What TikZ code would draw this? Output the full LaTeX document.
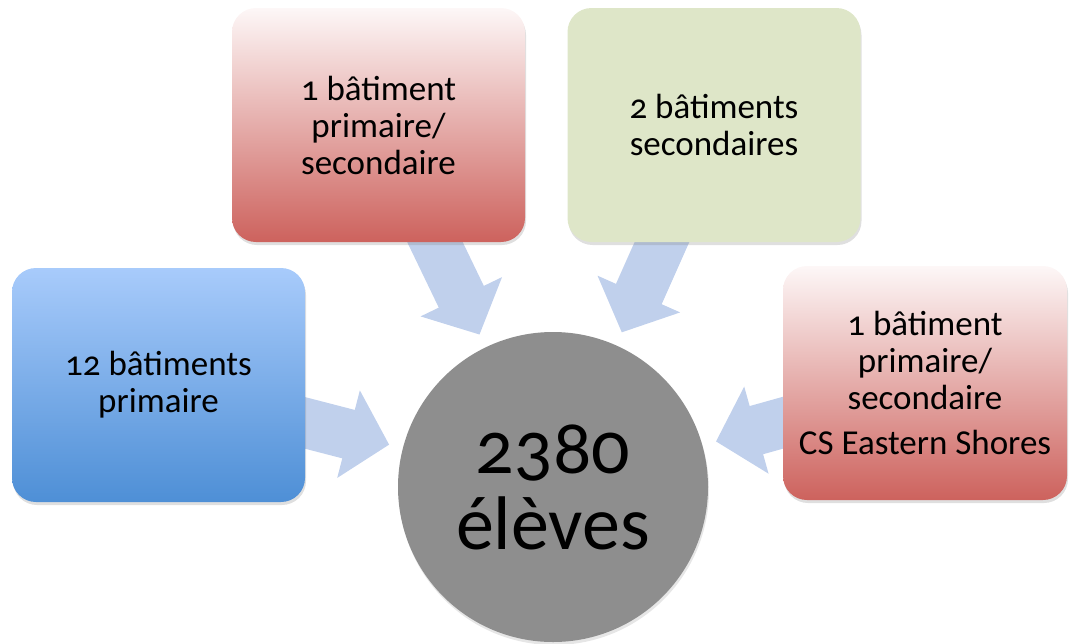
\documentclass[tikz,border=0pt]{standalone}
\usepackage{fontspec}
\setmainfont{Carlito}[Numbers=OldStyle]
\usetikzlibrary{arrows.meta,shadows,backgrounds}

\begin{document}
\begin{tikzpicture}[x=1pt,y=-1pt, bloc/.style={
                rectangle,
                rounded corners=24pt,
                minimum width=293pt,
                minimum height=234pt,
                inner sep=2pt,
                align=center,
                font=\fontsize{35}{37}\selectfont,
                drop shadow={shadow xshift=1pt, shadow yshift=-3pt, opacity=0.25}
              },
              fleche/.style={
                line width=50pt,
                draw=flechecolor,
                -{Triangle[length=42pt, width=88pt]},
                shorten >=14pt
              }]
            % Define colors
            \definecolor{bluetop}{RGB}{168, 203, 251}
            \definecolor{bluebot}{RGB}{78, 143, 214}
            \definecolor{redtop}{RGB}{253, 247, 247}
            \definecolor{redbot}{RGB}{205, 98, 93}
            \definecolor{vert}{RGB}{222, 230, 200}
            \definecolor{gris}{RGB}{142, 142, 142}
            \definecolor{flechecolor}{RGB}{192, 208, 236}

        \useasboundingbox (0,0) rectangle (1071,643);

        \node[bloc, top color=bluetop, bottom color=bluebot] (primaires) at (158.5,385) {12 bâtiments\\primaire};
        \node[bloc, top color=redtop, bottom color=redbot] (mixte) at (378.5,125) {1 bâtiment\\primaire/\\secondaire};
        \node[bloc, fill=vert] (secondaires) at (714,125) {2 bâtiments\\secondaires};
        \node[bloc, minimum width=284pt, top color=redtop, bottom color=redbot] (eastern) at (925,383)
            {1 bâtiment\\primaire/\\secondaire\\[8pt]CS Eastern Shores};

        \node[circle, fill=gris, minimum size=310pt, inner sep=0pt, align=center,
              font=\fontsize{76}{76}\selectfont,
              drop shadow={shadow xshift=1pt, shadow yshift=-3pt, opacity=0.2}] (eleves) at (553,487) {2380\\élèves};

        \begin{scope}[on background layer]
            \draw[fleche] (primaires.center) -- (eleves);
            \draw[fleche] (mixte.center) -- (eleves);
            \draw[fleche] (secondaires.center) -- (eleves);
            \draw[fleche] (eastern.center) -- (eleves);
        \end{scope}

\end{tikzpicture}
\end{document}
